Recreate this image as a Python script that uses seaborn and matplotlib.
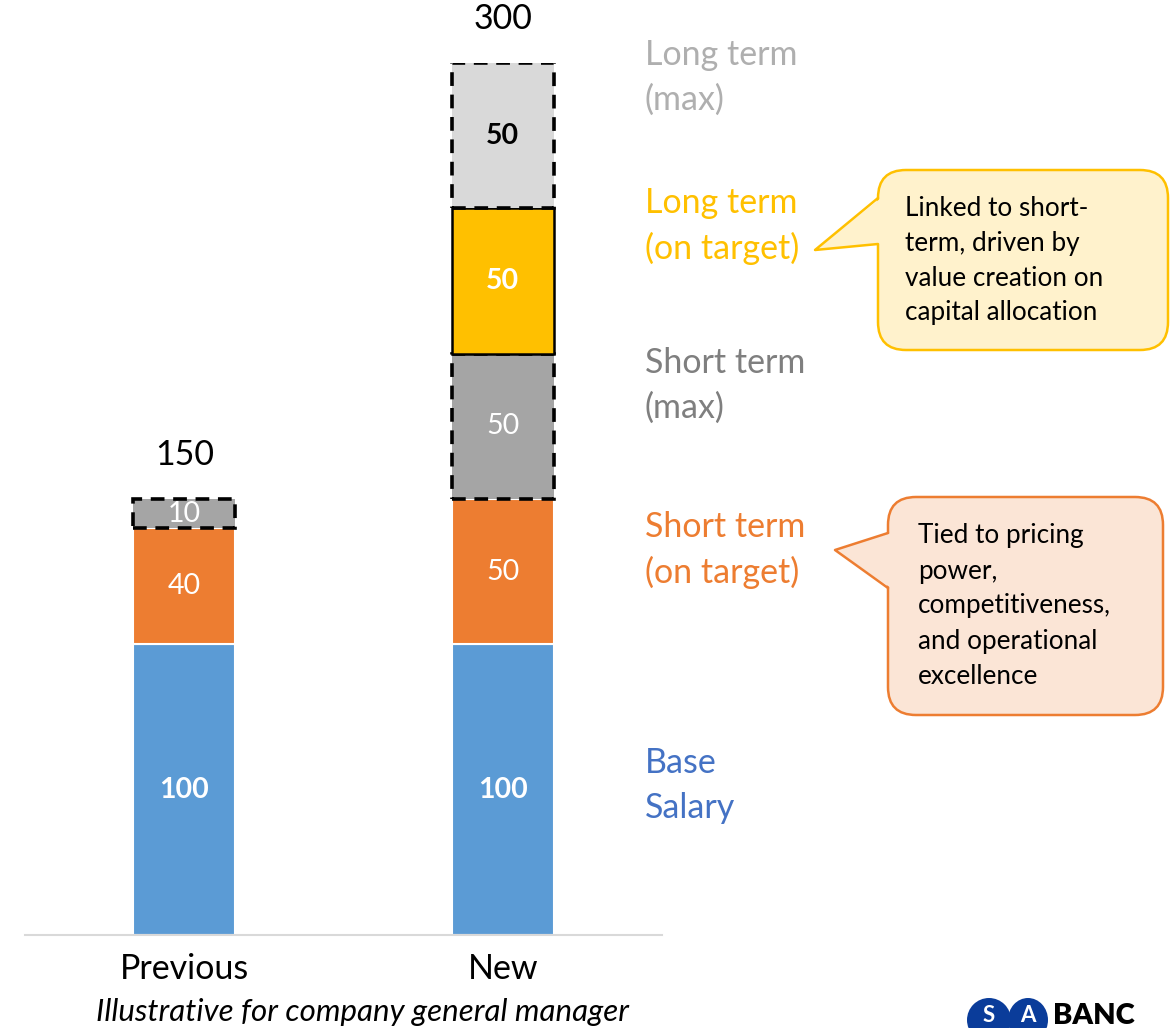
import numpy as np
import pandas as pd
import matplotlib
matplotlib.use("Agg")
import matplotlib.pyplot as plt
import seaborn as sns
from matplotlib.patches import FancyBboxPatch, Polygon, Ellipse
from matplotlib.lines import Line2D

# ---------------- data ----------------
categories = ["Previous", "New"]
base_salary = [100, 100]
short_on_target = [40, 50]
short_max = [10, 50]
long_on_target = [0, 50]
long_max = [0, 50]
totals = [150, 300]

layer_names = ["Base\nSalary", "Short term\n(on target)", "Short term\n(max)",
               "Long term\n(on target)", "Long term\n(max)"]
callout_yellow = ["Linked to short-", "term, driven by", "value creation on", "capital allocation"]
callout_orange = ["Tied to pricing", "power,", "competitiveness,", "and operational", "excellence"]
footnote = "Illustrative for company general manager"

# ---------------- style ----------------
sns.set_theme(style="white")
plt.rcParams["font.family"] = ["Lato", "DejaVu Sans"]

W, H = 1170, 1028
fig = plt.figure(figsize=(W / 100, H / 100), dpi=100)
ax = fig.add_axes([25 / W, (H - 935) / H, 637 / W, 872 / H])

layers = [
    dict(vals=base_salary, color="#5B9BD5", ec="white", lw=1.5, ls="-", tc="white", fw="bold"),
    dict(vals=short_on_target, color="#ED7D31", ec="white", lw=1.5, ls="-", tc="white", fw="normal"),
    dict(vals=short_max, color="#A5A5A5", ec="black", lw=2.6, ls=(0, (3.8, 2.4)), tc="white", fw="normal"),
    dict(vals=long_on_target, color="#FFC000", ec="black", lw=1.8, ls="-", tc="white", fw="bold"),
    dict(vals=long_max, color="#D9D9D9", ec="black", lw=2.6, ls=(0, (3.8, 2.4)), tc="black", fw="bold"),
]

bottoms = np.zeros(len(categories))
for i, L in enumerate(layers):
    vals = np.array(L["vals"], dtype=float)
    mask = vals > 0
    df = pd.DataFrame({"cat": np.array(categories)[mask], "val": vals[mask]})
    sns.barplot(data=df, x="cat", y="val", order=categories, ax=ax,
                color=L["color"], saturation=1, width=0.32, errorbar=None,
                bottom=bottoms[mask], edgecolor=L["ec"], linewidth=L["lw"],
                linestyle=L["ls"], zorder=2 + i * 0.1)
    for xi, (v, b) in enumerate(zip(vals, bottoms)):
        if v > 0:
            ax.text(xi, b + v / 2, f"{int(v)}", ha="center", va="center",
                    color=L["tc"], fontsize=20.5, fontweight=L["fw"], zorder=5)
    bottoms = bottoms + vals

for xi, t in enumerate(totals):
    ax.annotate(f"{t}", xy=(xi, t), xytext=(0, 32), textcoords="offset points",
                ha="center", va="center", fontsize=24.5, color="black",
                annotation_clip=False)

ax.set_xlim(-0.5, 1.5)
ax.set_ylim(0, 300)
ax.set_xlabel("")
ax.set_ylabel("")
ax.set_yticks([])
for s in ["left", "right", "top"]:
    ax.spines[s].set_visible(False)
ax.spines["bottom"].set_color("#D9D9D9")
ax.spines["bottom"].set_linewidth(1.5)
ax.tick_params(axis="x", length=0, pad=13, labelsize=24.5, labelcolor="black")

# ---------------- overlay for annotations (pixel coords) ----------------
ov = fig.add_axes([0, 0, 1, 1], zorder=10)
ov.set_xlim(0, W)
ov.set_ylim(H, 0)
ov.axis("off")

label_colors = ["#4472C4", "#ED7D31", "#7F7F7F", "#FFC000", "#AFAFAF"]
label_y = [(763, 808), (527, 572), (363, 408), (203, 248), (55, 100)]
for name, col, ys in zip(layer_names, label_colors, label_y):
    for line, y in zip(name.split("\n"), ys):
        ov.text(645, y, line, ha="left", va="center", fontsize=24.5, color=col)


def callout(x0, y0, x1, y1, tri, fc, ec, lines, tx, ty0, dy):
    box = FancyBboxPatch((x0, y0), x1 - x0, y1 - y0,
                         boxstyle="round,pad=0,rounding_size=28",
                         fc=fc, ec=ec, lw=1.8, zorder=11)
    ov.add_patch(box)
    (ax1, ay1), (tipx, tipy), (ax2, ay2) = tri
    poly = Polygon([(ax1 + 3, ay1), (tipx, tipy), (ax2 + 3, ay2)], closed=True,
                   fc=fc, ec="none", zorder=12)
    ov.add_patch(poly)
    ov.add_line(Line2D([ax1, tipx, ax2], [ay1, tipy, ay2], color=ec, lw=1.8, zorder=13))
    for k, line in enumerate(lines):
        ov.text(tx, ty0 + k * dy, line, ha="left", va="center", fontsize=18.8,
                color="black", zorder=14)


callout(878, 170, 1168, 350, [(878, 198), (815, 250), (878, 244)],
        "#FFF2CC", "#FFC000", callout_yellow, 905, 209, 34.5)
callout(888, 497, 1163, 715, [(888, 533), (835, 550), (888, 588)],
        "#FBE5D6", "#ED7D31", callout_orange, 918, 536, 35)

ov.text(362, 1012, footnote, ha="center", va="center", fontsize=22.5,
        style="italic", color="black")

# logo (approximation)
ov.add_patch(Ellipse((989, 1020), 44, 44, fc="#0A3C9A", ec="none", zorder=11))
ov.add_patch(Ellipse((1028, 1020), 40, 44, fc="#0A3C9A", ec="none", zorder=11))
ov.text(989, 1016, "S", ha="center", va="center", fontsize=16, fontweight="bold",
        color="white", zorder=12)
ov.text(1028, 1016, "A", ha="center", va="center", fontsize=16, fontweight="bold",
        color="white", zorder=12)
ov.text(1053, 1016, "BANC", ha="left", va="center", fontsize=21, fontweight="heavy",
        color="black", zorder=12)

fig.savefig("out.png", dpi=100)
